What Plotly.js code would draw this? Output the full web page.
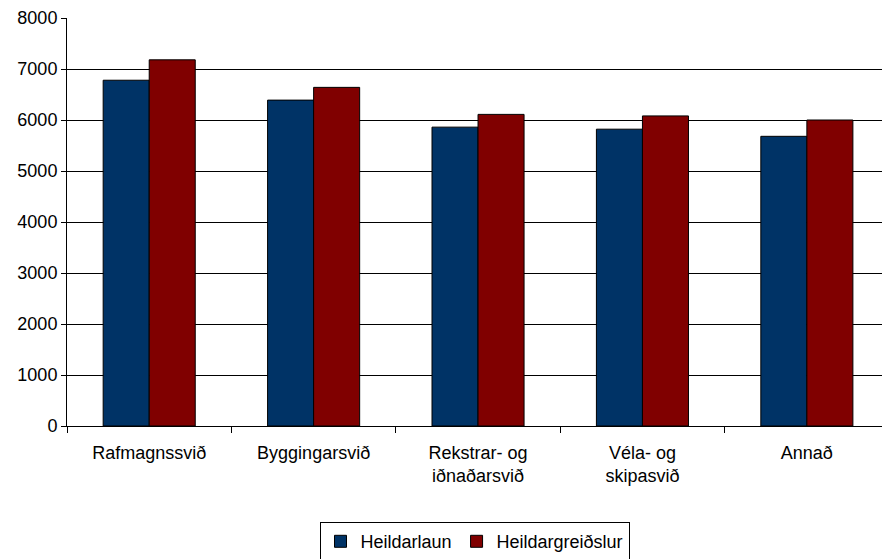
<!DOCTYPE html>
<html>
<head>
<meta charset="utf-8">
<script src="https://cdn.plot.ly/plotly-3.0.1.min.js"></script>
<style>html,body{margin:0;padding:0;background:#fff;}#chart{width:882px;height:559px;}</style>
</head>
<body>
<div id="chart"></div>
<script>
const categories = ["Rafmagnssvið", "Byggingarsvið", "Rekstrar- og<br>iðnaðarsvið", "Véla- og<br>skipasvið", "Annað"];
const heildarlaun = [6780, 6390, 5860, 5820, 5680];
const heildargreidslur = [7180, 6640, 6110, 6080, 6000];
const seriesNames = ["Heildarlaun", "Heildargreiðslur"];
const yTicks = [0, 1000, 2000, 3000, 4000, 5000, 6000, 7000, 8000];

const traces = [
  {type: "bar", name: seriesNames[0], x: categories, y: heildarlaun,
   marker: {color: "#003366", line: {color: "#000000", width: 1}}},
  {type: "bar", name: seriesNames[1], x: categories, y: heildargreidslur,
   marker: {color: "#800000", line: {color: "#000000", width: 1}}}
];

const layout = {
  width: 882, height: 559,
  margin: {l: 67, r: 0, t: 18, b: 133, autoexpand: false},
  paper_bgcolor: "#ffffff", plot_bgcolor: "#ffffff",
  font: {family: "Liberation Sans, Arial, sans-serif", size: 18, color: "#000000"},
  barmode: "group", bargap: 0.44, bargroupgap: 0,
  showlegend: true,
  legend: {orientation: "h", x: 0.5, xanchor: "center", yref: "container", y: 0.066, yanchor: "top",
           bordercolor: "#000000", borderwidth: 1, font: {size: 18},
           itemwidth: 30, tracegroupgap: 0},
  xaxis: {range: [-0.5, 4.457], showline: true, linecolor: "#000000", linewidth: 1,
          ticks: "outside", ticklen: 6, tickcolor: "#000000", tickson: "boundaries",
          ticklabelstandoff: 10, automargin: false,
          showgrid: false, tickfont: {size: 18}},
  yaxis: {range: [0, 8000], tickvals: yTicks, showline: true, linecolor: "#000000", linewidth: 1,
          ticks: "outside", ticklen: 5, tickcolor: "#000000", automargin: false,
          showgrid: true, gridcolor: "#000000", gridwidth: 1, zeroline: false,
          tickfont: {size: 18}}
};

Plotly.newPlot("chart", traces, layout, {displayModeBar: false, staticPlot: true});
</script>
</body>
</html>
